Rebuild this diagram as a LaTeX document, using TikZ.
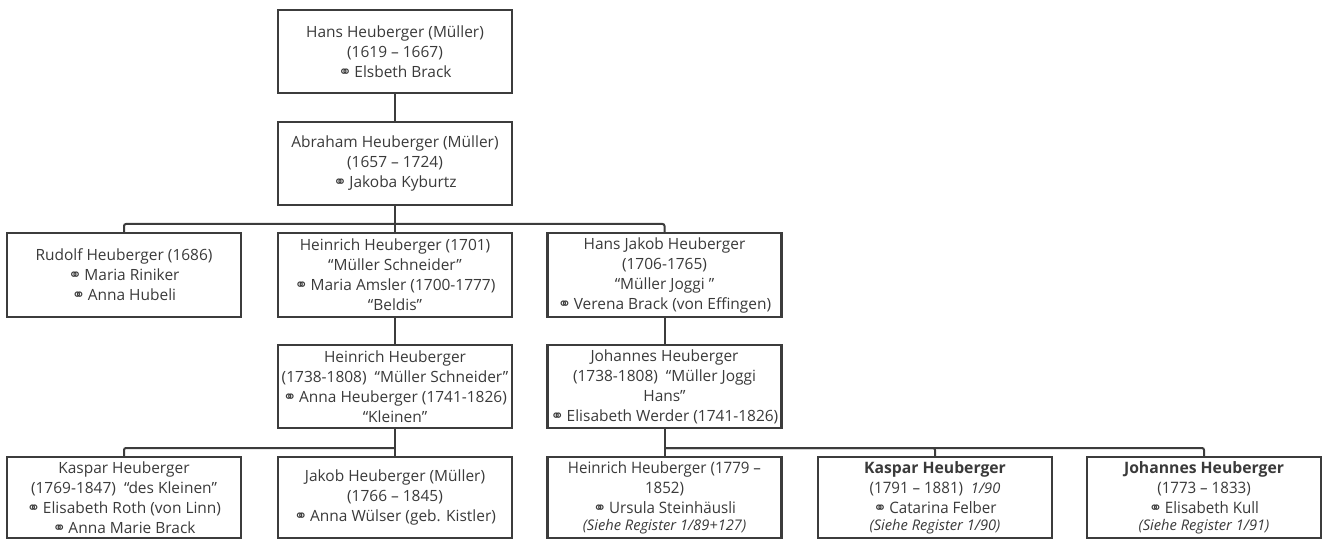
\documentclass[tikz,border=0pt]{standalone}
\usepackage{fontspec}
\setmainfont{Open Sans}
\newfontfamily\symfont{DejaVu Sans}
\newfontfamily\condfont[FakeStretch=0.96]{Open Sans}
\definecolor{txt}{HTML}{3A3A3A}
\definecolor{ln}{HTML}{3C3C3C}
\newcommand{\mar}{{\symfont\fontsize{12}{12}\selectfont ⚭}\,}
\newcommand{\reg}[1]{{\normalfont\fontsize{11}{12}\selectfont\itshape #1}}
\tikzset{
  person/.style={draw=ln, line width=1.6pt, fill=white, text=txt, align=center,
    inner sep=0pt, minimum width=175.5pt, font=\fontsize{11.6}{15}\selectfont},
  hA/.style={minimum height=62.25pt},
  hB/.style={minimum height=63pt},
  hC/.style={minimum height=60.75pt},
  cond/.style={font=\condfont\fontsize{11.8}{15}\selectfont},
  link/.style={draw=ln, line width=1.5pt}
}
\begin{document}
\begin{tikzpicture}[x=0.75pt,y=-0.75pt]
\useasboundingbox (0,0) rectangle (1324,541);
\node[person,hA] (b1) at (395,51.5) {Hans Heuberger (Müller)\\(1619 – 1667)\\\mar Elsbeth Brack};
\node[person,hA] (b2) at (395,163.5) {Abraham Heuberger (Müller)\\(1657 – 1724)\\\mar Jakoba Kyburtz};
\node[person,hB] (r3a) at (124,275) {Rudolf Heuberger (1686)\\\mar Maria Riniker\\\mar Anna Hubeli};
\node[person,hB] (r3b) at (395,275) {Heinrich Heuberger (1701)\\“Müller Schneider”\\\mar Maria Amsler (1700-1777)\\“Beldis”};
\node[person,hB] (r3c) at (664.5,275) {Hans Jakob Heuberger\\(1706-1765)\\“Müller Joggi ”\\\mar Verena Brack (von Effingen)};
\node[person,hA] (r4a) at (395,386.5) {Heinrich Heuberger\\(1738-1808)\ \ “Müller Schneider”\\\mar Anna Heuberger (1741-1826)\\“Kleinen”};
\node[person,hA] (r4b) at (664.5,386.5) {Johannes Heuberger\\(1738-1808)\ \ “Müller Joggi\\Hans”\\\mar Elisabeth Werder (1741-1826)};
\node[person,hC] (r5a) at (124,497.5) {Kaspar Heuberger\\(1769-1847)\ \ “des Kleinen”\\\mar Elisabeth Roth (von Linn)\\\mar Anna Marie Brack};
\node[person,hC] (r5b) at (395,497.5) {Jakob Heuberger (Müller)\\(1766 – 1845)\\\mar Anna Wülser (geb. Kistler)};
\node[person,hC,cond] (r5c) at (664.5,497.5) {Heinrich Heuberger (1779 –\\1852)\\\mar Ursula Steinhäusli\\[-2pt]\reg{(Siehe Register 1/89+127)}};
\node[person,hC,cond] (r5d) at (935,497.5) {{\normalfont\fontsize{11.8}{15}\selectfont\bfseries Kaspar Heuberger}\\(1791 – 1881)\ \ {\normalfont\fontsize{11}{15}\selectfont\itshape 1/90}\\\mar Catarina Felber\\[-2pt]\reg{(Siehe Register 1/90)}};
\node[person,hC,cond] (r5e) at (1204,497.5) {{\normalfont\fontsize{11.8}{15}\selectfont\bfseries Johannes Heuberger}\\(1773 – 1833)\\\mar Elisabeth Kull\\[-2pt]\reg{(Siehe Register 1/91)}};
\coordinate (bus1) at (395,224);
\coordinate (bus2) at (395,448);
\coordinate (bus3) at (664.5,448);
\path[link] (b1) -- (b2);
\path[link] (b2.south) -- (r3b.north);
\path[link,rounded corners=1.5pt] (r3a.north) |- (bus1) -| (r3c.north);
\path[link] (r3b) -- (r4a);
\path[link] (r3c) -- (r4b);
\path[link] (r4a.south) -- (r5b.north);
\path[link,rounded corners=1.5pt] (r5a.north) |- (bus2);
\path[link] (r4b.south) -- (r5c.north);
\path[link,rounded corners=1.5pt] (bus3) -| (r5d.north);
\path[link,rounded corners=1.5pt] (bus3) -| (r5e.north);
\end{tikzpicture}
\end{document}
